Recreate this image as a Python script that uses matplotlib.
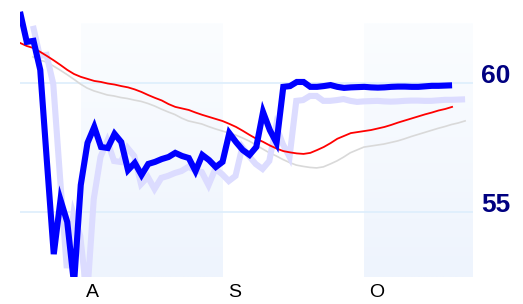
import numpy as np
import matplotlib
matplotlib.use("Agg")
import matplotlib.pyplot as plt
import matplotlib.transforms as mtransforms

# daily series (trading-day index)
price = [62.78, 61.61, 61.65, 60.52, 56.90, 53.35, 55.46, 54.60, 52.20, 56.04,
         57.68, 58.30, 57.52, 57.48, 58.03, 57.71, 56.62, 56.90, 56.43, 56.86,
         56.94, 57.05, 57.13, 57.29, 57.17, 57.09, 56.58, 57.21, 57.01, 56.74,
         56.94, 58.06, 57.71, 57.40, 57.21, 57.52, 58.88, 58.18, 57.68, 59.86,
         59.89, 60.05, 60.05, 59.86, 59.86, 59.89, 59.93, 59.86, 59.82, 59.84,
         59.85, 59.86, 59.84, 59.83, 59.84, 59.86, 59.87, 59.87, 59.86, 59.86,
         59.88, 59.90, 59.90, 59.91, 59.92]
avg = [61.57, 61.45, 61.37, 61.22, 61.06, 60.89, 60.71, 60.52, 60.36, 60.25,
       60.17, 60.09, 60.05, 59.99, 59.95, 59.89, 59.84, 59.76, 59.66, 59.54,
       59.43, 59.33, 59.19, 59.08, 59.02, 58.96, 58.86, 58.77, 58.69, 58.61,
       58.53, 58.42, 58.30, 58.15, 57.99, 57.84, 57.72, 57.58, 57.46, 57.36,
       57.31, 57.27, 57.25, 57.29, 57.40, 57.52, 57.67, 57.84, 57.95, 58.06,
       58.10, 58.14, 58.18, 58.24, 58.30, 58.38, 58.47, 58.55, 58.63, 58.71,
       58.79, 58.86, 58.94, 59.00, 59.08]
month_labels = ["A", "S", "O"]
month_starts = [9, 30, 51]   # index of first trading day of each month
yticks = [55, 60]

x = np.arange(len(price))

fig = plt.figure(figsize=(5.23, 3.04), dpi=100)
ax = fig.add_axes([20 / 523, 27 / 304, 453 / 523, 277 / 304])
ax.set_xlim(0, 67.1)
ax.set_ylim(52.46, 63.24)

# shaded months (A and O), light gradient
grad = np.linspace(0, 1, 100).reshape(-1, 1)
band_cmap = matplotlib.colors.LinearSegmentedColormap.from_list(
    "band", ["#eef4fd", "#fbfdff"])
band_top = 62.31
ends = month_starts[1:] + [67.1]
for i in (0, 2):
    ax.imshow(grad, cmap=band_cmap, origin="lower", aspect="auto",
              extent=(month_starts[i], ends[i], 52.46, band_top), zorder=0)

for y in yticks:
    ax.axhline(y, color="#ddeefc", lw=1.2, zorder=1)

# drop shadows
shadow = ax.transData + mtransforms.ScaledTranslation(0.13, -0.14, fig.dpi_scale_trans)
ax.plot(x, avg, color="#d9d9d9", lw=1.2, transform=shadow, zorder=2)
ax.plot(x, price, color="#dcdcff", lw=4.4, transform=shadow, zorder=2,
        solid_joinstyle="miter", solid_capstyle="butt")

ax.plot(x, avg, color="#ff0000", lw=1.3, zorder=3)
ax.plot(x, price, color="#0000ff", lw=4.4, zorder=4,
        solid_joinstyle="miter", solid_capstyle="butt")

for s in ax.spines.values():
    s.set_visible(False)

ax.yaxis.tick_right()
ax.set_yticks(yticks)
ax.tick_params(axis="y", length=0, pad=6, labelsize=19, labelcolor="#000080")
for lab in ax.get_yticklabels():
    lab.set_fontweight("bold")
    lab.set_fontfamily("Liberation Sans")
    lab.set_va("baseline")

ax.set_xticks(month_starts)
ax.set_xticklabels(month_labels)
ax.tick_params(axis="x", length=0, pad=5, labelsize=14, labelcolor="black")
offset = mtransforms.ScaledTranslation(0.12, 0, fig.dpi_scale_trans)
for lab in ax.get_xticklabels():
    lab.set_fontfamily("Liberation Sans")
    lab.set_transform(lab.get_transform() + offset)

fig.savefig("out.png", dpi=100)
